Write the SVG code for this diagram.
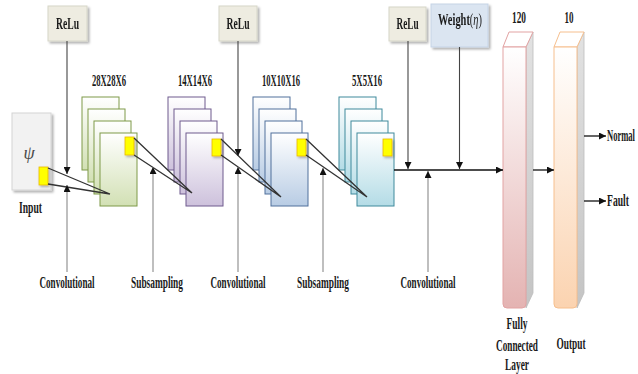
<svg xmlns="http://www.w3.org/2000/svg" width="638" height="374" viewBox="0 0 638 374">
  <style>
    .t { font-family: "Liberation Serif", "Times New Roman", serif; font-size: 16.5px; font-weight: bold; fill: #1a1a1a; }
    .box { stroke: #d6d6c8; stroke-width: 1; }
    .relu { fill: #eeece1; }
    .wt { fill: #dbe5f1; stroke: #c5d3e6; }
    .grn { fill: url(#gGreen); stroke: #7f9a48; stroke-width: 1; }
    .pur { fill: url(#gPurple); stroke: #6f5b8e; stroke-width: 1; }
    .blu { fill: url(#gBlue); stroke: #50719c; stroke-width: 1; }
    .tea { fill: url(#gTeal); stroke: #3f8a9c; stroke-width: 1; }
    .yel { fill: #ffff00; stroke: #e8b800; stroke-width: 0.8; }
    .cv { stroke: #333333; stroke-width: 1.3; fill: none; }
    .up { stroke: #8a8a8a; stroke-width: 1.1; fill: none; }
    .dn { stroke: #444444; stroke-width: 1.1; fill: none; }
    .main { stroke: #111111; stroke-width: 1.3; fill: none; }
  </style>
  <defs>
    <linearGradient id="gGreen" x1="0" y1="0" x2="0" y2="1">
      <stop offset="0" stop-color="#ffffff"/><stop offset="1" stop-color="#d2e0b4"/>
    </linearGradient>
    <linearGradient id="gPurple" x1="0" y1="0" x2="0" y2="1">
      <stop offset="0" stop-color="#ffffff"/><stop offset="1" stop-color="#cdc1dc"/>
    </linearGradient>
    <linearGradient id="gBlue" x1="0" y1="0" x2="0" y2="1">
      <stop offset="0" stop-color="#ffffff"/><stop offset="1" stop-color="#b8cce4"/>
    </linearGradient>
    <linearGradient id="gTeal" x1="0" y1="0" x2="0" y2="1">
      <stop offset="0" stop-color="#ffffff"/><stop offset="1" stop-color="#b4dce6"/>
    </linearGradient>
    <linearGradient id="gPink" x1="0" y1="0" x2="0" y2="1">
      <stop offset="0" stop-color="#ffffff"/><stop offset="1" stop-color="#e4b3b2"/>
    </linearGradient>
    <linearGradient id="gPeach" x1="0" y1="0" x2="0" y2="1">
      <stop offset="0" stop-color="#ffffff"/><stop offset="1" stop-color="#fbd3b0"/>
    </linearGradient>
    <linearGradient id="gSide" x1="0" y1="0" x2="0" y2="1">
      <stop offset="0" stop-color="#e2e2e2"/><stop offset="1" stop-color="#c4c4c4"/>
    </linearGradient>
    <filter id="shadow" x="-20%" y="-20%" width="150%" height="150%">
      <feDropShadow dx="2" dy="2" stdDeviation="1.2" flood-color="#000000" flood-opacity="0.3"/>
    </filter>
    <filter id="soft" x="-30%" y="-30%" width="170%" height="170%">
      <feDropShadow dx="1.5" dy="1.5" stdDeviation="0.8" flood-color="#000000" flood-opacity="0.3"/>
    </filter>
    <marker id="arr" viewBox="0 0 8 8" refX="8" refY="4" markerWidth="7" markerHeight="7" markerUnits="userSpaceOnUse" orient="auto">
      <path d="M0,0 L8,4 L0,8 z" fill="#111111"/>
    </marker>
  </defs>

  <!-- activation and weight boxes -->
  <g id="relu1" filter="url(#shadow)">
    <rect class="box relu" x="48" y="6" width="39" height="35"/>
    <text class="t" x="67.5" y="29" text-anchor="middle" textLength="23" lengthAdjust="spacingAndGlyphs">ReLu</text>
  </g>
  <g id="relu2" filter="url(#shadow)">
    <rect class="box relu" x="219" y="6" width="38" height="35"/>
    <text class="t" x="238" y="29" text-anchor="middle" textLength="23" lengthAdjust="spacingAndGlyphs">ReLu</text>
  </g>
  <g id="relu3" filter="url(#shadow)">
    <rect class="box relu" x="389" y="7" width="37" height="34"/>
    <text class="t" x="407.5" y="29" text-anchor="middle" textLength="22" lengthAdjust="spacingAndGlyphs">ReLu</text>
  </g>
  <g id="weight" filter="url(#shadow)">
    <rect class="box wt" x="431" y="4" width="57" height="43"/>
    <text class="t" x="438" y="25" textLength="44" lengthAdjust="spacingAndGlyphs">Weight<tspan font-weight="normal">(</tspan><tspan font-style="italic" font-weight="normal">η</tspan><tspan font-weight="normal">)</tspan></text>
  </g>

  <!-- input map -->
  <g id="input">
    <rect x="12" y="113" width="39" height="77" fill="#f2f2f2" stroke="#d4d4d4" filter="url(#shadow)"/>
    <text x="29" y="159" text-anchor="middle" font-family="Liberation Serif, serif" font-style="italic" font-size="18" fill="#4a4a4a">ψ</text>
    <rect class="yel" x="39" y="167" width="9" height="18" filter="url(#soft)"/>
    <text class="t" x="30.5" y="213" text-anchor="middle" textLength="23" lengthAdjust="spacingAndGlyphs">Input</text>
  </g>

  <!-- feature map stacks -->
  <g id="conv1">
    <text class="t" x="109" y="86" text-anchor="middle" textLength="34" lengthAdjust="spacingAndGlyphs">28X28X6</text>
    <rect class="grn" x="82" y="97" width="37" height="73"/>
    <rect class="grn" x="88" y="109" width="37" height="73"/>
    <rect class="grn" x="94" y="121" width="37" height="73"/>
    <rect class="grn" x="100" y="133" width="37" height="73"/>
    <rect class="yel" x="125" y="137" width="9" height="18" filter="url(#soft)"/>
  </g>
  <g id="pool1">
    <text class="t" x="195" y="86" text-anchor="middle" textLength="34" lengthAdjust="spacingAndGlyphs">14X14X6</text>
    <rect class="pur" x="168" y="97" width="37" height="73"/>
    <rect class="pur" x="174" y="109" width="37" height="73"/>
    <rect class="pur" x="180" y="121" width="37" height="73"/>
    <rect class="pur" x="186" y="133" width="37" height="73"/>
    <rect class="yel" x="212" y="139" width="9" height="17" filter="url(#soft)"/>
  </g>
  <g id="conv2">
    <text class="t" x="281" y="86" text-anchor="middle" textLength="38" lengthAdjust="spacingAndGlyphs">10X10X16</text>
    <rect class="blu" x="253" y="97" width="37" height="73"/>
    <rect class="blu" x="259" y="109" width="37" height="73"/>
    <rect class="blu" x="265" y="121" width="37" height="73"/>
    <rect class="blu" x="271" y="133" width="37" height="73"/>
    <rect class="yel" x="297" y="139" width="9" height="17" filter="url(#soft)"/>
  </g>
  <g id="pool2">
    <text class="t" x="367" y="86" text-anchor="middle" textLength="30" lengthAdjust="spacingAndGlyphs">5X5X16</text>
    <rect class="tea" x="339" y="97" width="37" height="73"/>
    <rect class="tea" x="345" y="109" width="37" height="73"/>
    <rect class="tea" x="351" y="121" width="37" height="73"/>
    <rect class="tea" x="357" y="133" width="37" height="73"/>
    <rect class="yel" x="383" y="139" width="9" height="17" filter="url(#soft)"/>
  </g>

  <!-- dense layers -->
  <g id="fc">
    <text class="t" x="519" y="23" text-anchor="middle" textLength="14" lengthAdjust="spacingAndGlyphs">120</text>
    <polygon points="526,47 533,32 533,293 526,308" fill="url(#gSide)" stroke="#bdbdbd" stroke-width="0.8"/>
    <polygon points="503,47 509,32 533,32 526,47" fill="#ffffff" stroke="#e2a3a3" stroke-width="1"/>
    <path d="M503,47 H526 V304 Q526,308 522,308 H507 Q503,308 503,304 Z" fill="url(#gPink)" stroke="#e2a3a3" stroke-width="1"/>
    <text class="t" x="517" y="329" text-anchor="middle" textLength="21" lengthAdjust="spacingAndGlyphs">Fully</text>
    <text class="t" x="517" y="351" text-anchor="middle" textLength="42" lengthAdjust="spacingAndGlyphs">Connected</text>
    <text class="t" x="517" y="370" text-anchor="middle" textLength="24" lengthAdjust="spacingAndGlyphs">Layer</text>
  </g>
  <g id="output">
    <text class="t" x="569" y="23" text-anchor="middle" textLength="9" lengthAdjust="spacingAndGlyphs">10</text>
    <polygon points="577,47 584,32 584,293 577,308" fill="url(#gSide)" stroke="#bdbdbd" stroke-width="0.8"/>
    <polygon points="554,47 560,32 584,32 577,47" fill="#ffffff" stroke="#f6bf8e" stroke-width="1"/>
    <path d="M554,47 H577 V304 Q577,308 573,308 H558 Q554,308 554,304 Z" fill="url(#gPeach)" stroke="#f6bf8e" stroke-width="1"/>
    <text class="t" x="571" y="349" text-anchor="middle" textLength="29" lengthAdjust="spacingAndGlyphs">Output</text>
  </g>

  <!-- bottom stage labels -->
  <g id="labels">
    <text class="t" x="67" y="288" text-anchor="middle" textLength="55" lengthAdjust="spacingAndGlyphs">Convolutional</text>
    <text class="t" x="157" y="288" text-anchor="middle" textLength="52" lengthAdjust="spacingAndGlyphs">Subsampling</text>
    <text class="t" x="238" y="288" text-anchor="middle" textLength="55" lengthAdjust="spacingAndGlyphs">Convolutional</text>
    <text class="t" x="323" y="288" text-anchor="middle" textLength="52" lengthAdjust="spacingAndGlyphs">Subsampling</text>
    <text class="t" x="428" y="288" text-anchor="middle" textLength="55" lengthAdjust="spacingAndGlyphs">Convolutional</text>
    <text class="t" x="607" y="141" textLength="28" lengthAdjust="spacingAndGlyphs">Normal</text>
    <text class="t" x="607" y="206" textLength="22" lengthAdjust="spacingAndGlyphs">Fault</text>
  </g>

  <g id="connectors">
    <!-- receptive field projections -->
    <path class="cv" d="M48,168 L110,194 M48,184 L110,194"/>
    <path class="cv" d="M134,138 L192,193 M134,155 L192,193"/>
    <path class="cv" d="M221,139 L281,197 M221,155 L281,197"/>
    <path class="cv" d="M306,139 L367,197 M306,155 L367,197"/>
    <!-- activations from above -->
    <line class="dn" x1="67" y1="41" x2="67" y2="174" marker-end="url(#arr)"/>
    <line class="dn" x1="238" y1="41" x2="238" y2="156" marker-end="url(#arr)"/>
    <line class="dn" x1="408" y1="41" x2="408" y2="169" marker-end="url(#arr)"/>
    <line class="dn" x1="459.5" y1="47" x2="459.5" y2="169" marker-end="url(#arr)"/>
    <!-- operations from below -->
    <line class="up" x1="67" y1="272" x2="67" y2="185" marker-end="url(#arr)"/>
    <line class="up" x1="153" y1="272" x2="153" y2="167" marker-end="url(#arr)"/>
    <line class="up" x1="238" y1="272" x2="238" y2="167" marker-end="url(#arr)"/>
    <line class="up" x1="323" y1="272" x2="323" y2="168" marker-end="url(#arr)"/>
    <line class="up" x1="428" y1="272" x2="428" y2="171" marker-end="url(#arr)"/>
    <!-- main flow -->
    <line class="main" x1="394" y1="170" x2="503" y2="170" marker-end="url(#arr)"/>
    <line class="main" x1="533" y1="170" x2="554" y2="170" marker-end="url(#arr)"/>
    <line class="main" x1="584" y1="136" x2="606" y2="136" marker-end="url(#arr)"/>
    <line class="main" x1="584" y1="201" x2="606" y2="201" marker-end="url(#arr)"/>
  </g>
</svg>
